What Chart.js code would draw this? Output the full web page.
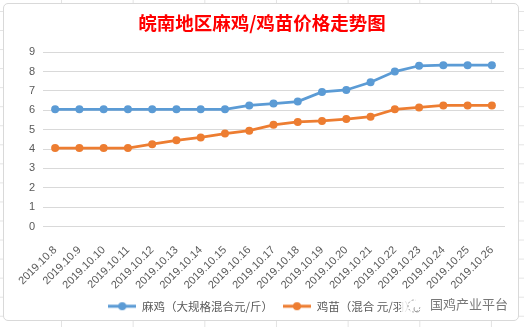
<!DOCTYPE html>
<html lang="zh">
<head>
    <meta charset="UTF-8">
    <title>皖南地区麻鸡/鸡苗价格走势图</title>
    <script src="https://cdn.jsdelivr.net/npm/chart.js"></script>
    <style>
        html, body { margin: 0; padding: 0; }
        body {
            width: 524px; height: 327px; position: relative; overflow: hidden;
            background-color: #fff;
            background-image:
                linear-gradient(to right, #e3e3e3 1px, transparent 1px),
                linear-gradient(to bottom, #e3e3e3 1px, transparent 1px);
            background-size: 71.67px 19.05px;
            background-position: 61px 11px;
        }
        .box {
            position: absolute; left: 3px; top: 3px; width: 514px; height: 316px;
            background: #fff; border: 1px solid #d9d9d9; border-radius: 5px;
        }
        #wrap { position: absolute; left: 0; top: 0; width: 524px; height: 327px; }
    </style>
</head>
<body>
<div class="box"></div>
<div id="wrap"><canvas id="priceChart" width="524" height="327"></canvas></div>

<script>
    // 日期
    const dates = ['2019.10.8', '2019.10.9', '2019.10.10', '2019.10.11', '2019.10.12', '2019.10.13',
        '2019.10.14', '2019.10.15', '2019.10.16', '2019.10.17', '2019.10.18', '2019.10.19',
        '2019.10.20', '2019.10.21', '2019.10.22', '2019.10.23', '2019.10.24', '2019.10.25', '2019.10.26'];
    // 麻鸡（大规格混合 元/斤）
    const majiPrice = [6.05, 6.05, 6.05, 6.05, 6.05, 6.05, 6.05, 6.05, 6.25, 6.35, 6.45, 6.95,
        7.05, 7.45, 8.0, 8.3, 8.33, 8.33, 8.33];
    // 鸡苗（混合 元/羽）
    const jimiaoPrice = [4.05, 4.05, 4.05, 4.05, 4.25, 4.45, 4.6, 4.8, 4.95, 5.25, 5.4, 5.45,
        5.55, 5.67, 6.05, 6.15, 6.25, 6.25, 6.25];
    const yTicks = [0, 1, 2, 3, 4, 5, 6, 7, 8, 9];

    const BLUE = '#5B9BD5';
    const ORANGE = '#ED7D31';
    const CJK = '"Noto Sans CJK SC", "Microsoft YaHei", sans-serif';

    // 图例：线段 + 圆点
    function legendIcon(color) {
        const c = document.createElement('canvas');
        c.width = 28; c.height = 10;
        const g = c.getContext('2d');
        g.strokeStyle = color; g.lineWidth = 3;
        g.beginPath(); g.moveTo(0, 5); g.lineTo(28, 5); g.stroke();
        g.fillStyle = color;
        g.beginPath(); g.arc(14, 5, 4, 0, Math.PI * 2); g.fill();
        return c;
    }

    // 水印
    const watermark = {
        id: 'watermark',
        afterDraw(chart) {
            const c = chart.ctx;
            c.save();
            c.fillStyle = 'rgba(255,255,255,0.85)';
            c.fillRect(401, 294, 26, 22);
            c.strokeStyle = '#9a9a9a';
            c.lineWidth = 1;
            c.setLineDash([2, 2]);
            c.beginPath(); c.arc(414, 306, 6, 0.2, Math.PI * 1.6); c.stroke();
            c.setLineDash([]);
            c.beginPath(); c.arc(417, 309, 3, Math.PI * 0.1, Math.PI * 1.2); c.stroke();
            c.fillStyle = '#777';
            c.font = '13px ' + CJK;
            c.textBaseline = 'middle';
            c.fillText('国鸡产业平台', 430, 304);
            c.restore();
        }
    };

    const ctx = document.getElementById('priceChart').getContext('2d');
    new Chart(ctx, {
        type: 'line',
        data: {
            labels: dates,
            datasets: [
                {
                    label: '麻鸡（大规格混合元/斤）',
                    data: majiPrice,
                    borderColor: BLUE,
                    backgroundColor: BLUE,
                    borderWidth: 2.75,
                    pointRadius: 4,
                    pointBorderWidth: 0,
                    tension: 0
                },
                {
                    label: '鸡苗（混合 元/羽）',
                    data: jimiaoPrice,
                    borderColor: ORANGE,
                    backgroundColor: ORANGE,
                    borderWidth: 2.75,
                    pointRadius: 4,
                    pointBorderWidth: 0,
                    tension: 0
                }
            ]
        },
        options: {
            responsive: false,
            animation: false,
            layout: { padding: { left: 20, right: 20, top: 0, bottom: 5 } },
            plugins: {
                title: {
                    display: true,
                    text: '皖南地区麻鸡/鸡苗价格走势图',
                    color: '#FF0000',
                    font: { family: CJK, size: 18.5, weight: 'bold' },
                    padding: { top: 12, bottom: 18 }
                },
                legend: {
                    position: 'bottom',
                    labels: {
                        usePointStyle: true,
                        pointStyleWidth: 28,
                        padding: 10,
                        color: '#595959',
                        font: { family: CJK, size: 11.5 },
                        generateLabels(chart) {
                            const items = Chart.defaults.plugins.legend.labels.generateLabels(chart);
                            items.forEach((it, i) => {
                                it.pointStyle = legendIcon(i === 0 ? BLUE : ORANGE);
                            });
                            return items;
                        }
                    }
                },
                tooltip: { enabled: false }
            },
            scales: {
                x: {
                    offset: true,
                    grid: { display: false },
                    border: { display: true, color: '#d9d9d9' },
                    ticks: {
                        autoSkip: false,
                        minRotation: 45,
                        maxRotation: 45,
                        color: '#595959',
                        font: { family: '"Liberation Sans", Arial, sans-serif', size: 11 },
                        padding: 9
                    },
                    afterFit(scale) { scale.height = 64; }
                },
                y: {
                    min: 0,
                    max: 9,
                    afterBuildTicks(scale) { scale.ticks = yTicks.map(v => ({ value: v })); },
                    grid: { color: '#d9d9d9', drawTicks: false },
                    border: { display: false },
                    ticks: {
                        color: '#595959',
                        font: { family: '"Liberation Sans", Arial, sans-serif', size: 11 },
                        padding: 8
                    },
                    afterFit(scale) { scale.width = 23; }
                }
            }
        },
        plugins: [watermark]
    });
</script>
</body>
</html>
